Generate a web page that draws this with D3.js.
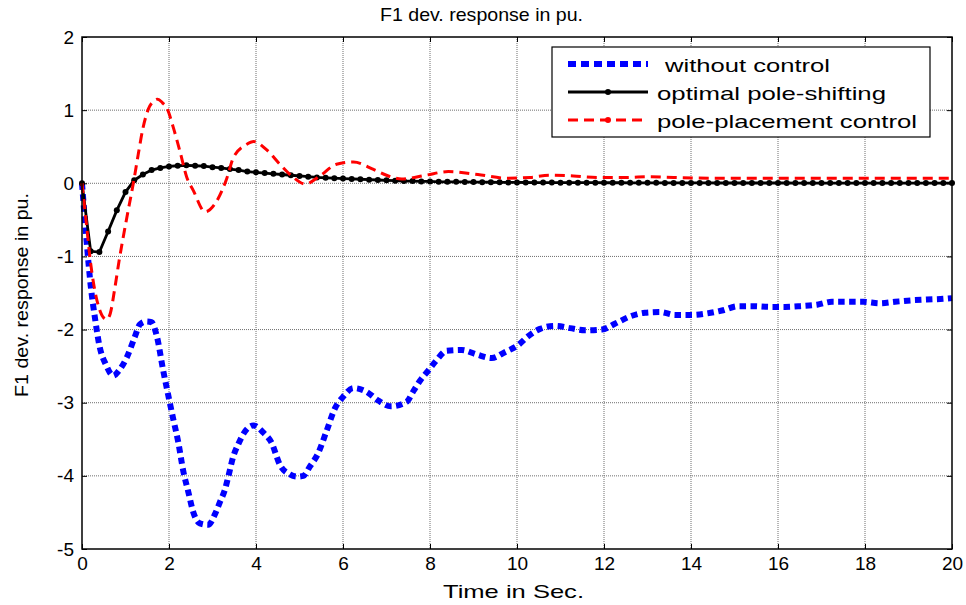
<!DOCTYPE html>
<html>
<head>
<meta charset="utf-8">
<script src="https://cdn.jsdelivr.net/npm/d3@7"></script>
<style>
  body { margin: 0; background: #fff; }
  text { font-family: "Liberation Sans", Arial, sans-serif; }
</style>
</head>
<body>
<script>
// Time axis ticks and value axis ticks
const xTicks = [0, 2, 4, 6, 8, 10, 12, 14, 16, 18, 20];
const yTicks = [-5, -4, -3, -2, -1, 0, 1, 2];

// Without control (blue dotted)
const blueT = [0, 0.1, 0.2, 0.3, 0.4, 0.55, 0.72, 0.85, 1.03, 1.22, 1.33, 1.47, 1.6, 1.72, 1.87, 1.98,
  2.1, 2.21, 2.33, 2.44, 2.56, 2.71, 2.9, 3.06, 3.17, 3.29, 3.36, 3.48, 3.59, 3.75, 3.94, 4.17, 4.36,
  4.55, 4.78, 4.94, 5.09, 5.24, 5.43, 5.62, 5.82, 6.0, 6.24, 6.54, 6.81, 7.1, 7.46, 7.62, 7.77, 7.96,
  8.15, 8.38, 8.73, 9.07, 9.42, 9.72, 10.03, 10.26, 10.53, 10.87, 11.22, 11.56, 11.95, 12.25, 12.6,
  12.94, 13.29, 13.63, 14.02, 14.36, 14.71, 15.09, 15.43, 15.82, 16.16, 16.51, 16.9, 17.24, 17.58,
  17.96, 18.34, 18.69, 19.07, 19.42, 19.8, 20];
const blueV = [0, -0.75, -1.4, -1.85, -2.22, -2.48, -2.63, -2.56, -2.38, -2.09, -1.93, -1.89, -1.9, -2.09,
  -2.57, -2.89, -3.23, -3.53, -3.94, -4.21, -4.5, -4.65, -4.67, -4.52, -4.36, -4.18, -4.02, -3.73,
  -3.57, -3.39, -3.31, -3.41, -3.55, -3.85, -3.98, -4.01, -4.0, -3.87, -3.69, -3.39, -3.07, -2.92,
  -2.8, -2.85, -2.97, -3.05, -2.99, -2.84, -2.7, -2.56, -2.42, -2.29, -2.28, -2.34, -2.39, -2.31,
  -2.21, -2.09, -1.99, -1.95, -1.98, -2.01, -2.0, -1.92, -1.82, -1.77, -1.76, -1.8, -1.8, -1.78,
  -1.74, -1.68, -1.68, -1.69, -1.69, -1.68, -1.66, -1.62, -1.62, -1.62, -1.64, -1.62, -1.6, -1.59,
  -1.58, -1.57];

// Optimal pole-shifting (black, one marker every 0.2 s)
const blackStep = 0.2;
const blackV = [0, -0.93, -0.94, -0.66, -0.37, -0.12, 0.04, 0.12, 0.18, 0.21,
  0.23, 0.24, 0.245, 0.24, 0.235, 0.22, 0.21, 0.195, 0.18, 0.16,
  0.15, 0.14, 0.13, 0.12, 0.11, 0.1, 0.09, 0.08, 0.075, 0.07,
  0.065, 0.06, 0.055, 0.05, 0.045, 0.04, 0.035, 0.03, 0.03, 0.025,
  0.025, 0.02, 0.02, 0.02, 0.018, 0.016, 0.015, 0.014, 0.013, 0.012,
  0.012, 0.011, 0.01, 0.01, 0.01, 0.009, 0.009, 0.008, 0.008, 0.008,
  0.007, 0.007, 0.007, 0.006, 0.006, 0.006, 0.006, 0.005, 0.005, 0.005,
  0.005, 0.005, 0.005, 0.004, 0.004, 0.004, 0.004, 0.004, 0.004, 0.004,
  0.004, 0.004, 0.003, 0.003, 0.003, 0.003, 0.003, 0.003, 0.003, 0.003,
  0.003, 0.003, 0.003, 0.003, 0.003, 0.003, 0.003, 0.003, 0.003, 0.003, 0.003];

// Pole-placement control (red dashed)
const redT = [0, 0.1, 0.2, 0.3, 0.4, 0.5, 0.57, 0.65, 0.75, 0.85, 1.03, 1.18, 1.3, 1.4, 1.53, 1.64,
  1.74, 1.85, 1.95, 2.1, 2.25, 2.41, 2.56, 2.83, 3.1, 3.33, 3.48, 3.78, 3.95, 4.24, 4.55, 4.86, 5.13,
  5.47, 5.85, 6.24, 6.7, 7.0, 7.35, 7.9, 8.42, 9.1, 9.76, 10.3, 10.76, 11.3, 11.83, 12.5, 13.06,
  13.6, 14.5, 16, 18, 20];
const redV = [0, -0.55, -1.1, -1.48, -1.72, -1.84, -1.86, -1.78, -1.45, -1.07, -0.47, 0, 0.42, 0.75,
  1.02, 1.12, 1.15, 1.1, 1.03, 0.76, 0.44, 0.08, -0.1, -0.39, -0.24, 0.07, 0.35, 0.53, 0.57, 0.46,
  0.26, 0.08, -0.01, 0.1, 0.26, 0.29, 0.19, 0.11, 0.06, 0.11, 0.16, 0.12, 0.07, 0.08, 0.11, 0.1,
  0.08, 0.08, 0.09, 0.08, 0.07, 0.07, 0.07, 0.07];

const seriesNames = [" without control", "optimal pole-shifting", "pole-placement control"];

const font = "'Liberation Sans', Arial, sans-serif";
const W = 966, H = 605;
const margin = { left: 82, top: 37, right: 14, bottom: 56 };
const width = W - margin.left - margin.right;
const height = H - margin.top - margin.bottom;

const root = d3.select("body").append("svg")
    .attr("width", W)
    .attr("height", H);

const svg = root.append("g")
    .attr("transform", `translate(${margin.left},${margin.top})`);

const x = d3.scaleLinear().domain([0, 20]).range([0, width]);
const y = d3.scaleLinear().domain([-5, 2]).range([height, 0]);

// Gridlines (gray dotted, inner ticks only)
svg.append("g")
    .selectAll("line")
    .data(xTicks.slice(1, -1))
    .enter().append("line")
    .attr("x1", d => x(d)).attr("x2", d => x(d))
    .attr("y1", 0).attr("y2", height)
    .attr("stroke", "#6e6e6e")
    .attr("stroke-width", 1)
    .attr("stroke-dasharray", "1,1");

svg.append("g")
    .selectAll("line")
    .data(yTicks.slice(1, -1))
    .enter().append("line")
    .attr("x1", 0).attr("x2", width)
    .attr("y1", d => y(d)).attr("y2", d => y(d))
    .attr("stroke", "#6e6e6e")
    .attr("stroke-width", 1)
    .attr("stroke-dasharray", "1,1");

// Axes, ticks pointing inward on all four sides
function styleAxis(g) {
    g.select(".domain").remove();
    g.selectAll(".tick line").attr("stroke", "#000").attr("stroke-width", 1);
    g.selectAll("text")
        .attr("font-family", font)
        .style("font-size", "19px")
        .attr("fill", "#000");
}

const plainFmt = d => String(d); // keep ASCII hyphen, no decimals

svg.append("g")
    .attr("transform", `translate(0,${height})`)
    .call(d3.axisBottom(x).tickValues(xTicks).tickFormat(plainFmt)
        .tickSizeInner(-5).tickSizeOuter(0).tickPadding(8))
    .call(styleAxis);

svg.append("g")
    .call(d3.axisTop(x).tickValues(xTicks).tickSizeInner(-5).tickSizeOuter(0).tickFormat(""))
    .call(styleAxis);

svg.append("g")
    .call(d3.axisLeft(y).tickValues(yTicks).tickFormat(plainFmt)
        .tickSizeInner(-5).tickSizeOuter(0).tickPadding(8))
    .call(styleAxis);

svg.append("g")
    .attr("transform", `translate(${width},0)`)
    .call(d3.axisRight(y).tickValues(yTicks).tickSizeInner(-5).tickSizeOuter(0).tickFormat(""))
    .call(styleAxis);

// Curves
const blueData = blueT.map((t, i) => ({ x: t, y: blueV[i] }));
const redData = redT.map((t, i) => ({ x: t, y: redV[i] }));
const blackData = blackV.map((v, i) => ({ x: i * blackStep, y: v }));

const plot = svg.append("g");

plot.append("path")
    .datum(blueData)
    .attr("fill", "none")
    .attr("stroke", "#0000ff")
    .attr("stroke-width", 6)
    .attr("stroke-dasharray", "6.5,4.5")
    .attr("d", d3.line().x(d => x(d.x)).y(d => y(d.y)).curve(d3.curveMonotoneX));

plot.append("path")
    .datum(blackData)
    .attr("fill", "none")
    .attr("stroke", "#000")
    .attr("stroke-width", 2.8)
    .attr("d", d3.line().x(d => x(d.x)).y(d => y(d.y)));

plot.append("g")
    .selectAll("circle")
    .data(blackData)
    .enter().append("circle")
    .attr("cx", d => x(d.x))
    .attr("cy", d => y(d.y))
    .attr("r", 3)
    .attr("fill", "#000");

plot.append("path")
    .datum(redData)
    .attr("fill", "none")
    .attr("stroke", "#ff0000")
    .attr("stroke-width", 3)
    .attr("stroke-dasharray", "10,6")
    .attr("d", d3.line().x(d => x(d.x)).y(d => y(d.y)).curve(d3.curveMonotoneX));

// Axis frame
svg.append("rect")
    .attr("x", 0).attr("y", 0)
    .attr("width", width).attr("height", height)
    .attr("fill", "none")
    .attr("stroke", "#000")
    .attr("stroke-width", 1.5);

// Title and labels (the export stretches glyphs, so fix lengths)
root.append("text")
    .attr("x", 380).attr("y", 20.5)
    .attr("font-family", font)
    .style("font-size", "18.5px")
    .attr("textLength", 203).attr("lengthAdjust", "spacingAndGlyphs")
    .text("F1 dev. response in pu.");

root.append("text")
    .attr("x", 443).attr("y", 598)
    .attr("font-family", font)
    .style("font-size", "19px")
    .attr("textLength", 141).attr("lengthAdjust", "spacingAndGlyphs")
    .text("Time in Sec.");

root.append("text")
    .attr("transform", "translate(28,397) rotate(-90)")
    .attr("font-family", font)
    .style("font-size", "18.5px")
    .attr("textLength", 204).attr("lengthAdjust", "spacingAndGlyphs")
    .text("F1 dev. response in pu.");

// Legend
const legend = root.append("g");
legend.append("rect")
    .attr("x", 552).attr("y", 47)
    .attr("width", 378).attr("height", 90)
    .attr("fill", "#fff")
    .attr("stroke", "#000")
    .attr("stroke-width", 1.2);

const legendY = [64, 92, 120];
const legendTextX = [665, 657, 657];
const legendLen = [165, 229, 260];

legend.append("line")
    .attr("x1", 568).attr("x2", 648)
    .attr("y1", legendY[0]).attr("y2", legendY[0])
    .attr("stroke", "#0000ff").attr("stroke-width", 6)
    .attr("stroke-dasharray", "8,5");

legend.append("line")
    .attr("x1", 568).attr("x2", 648)
    .attr("y1", legendY[1]).attr("y2", legendY[1])
    .attr("stroke", "#000").attr("stroke-width", 2.8);
legend.append("circle")
    .attr("cx", 608).attr("cy", legendY[1]).attr("r", 3).attr("fill", "#000");

legend.append("line")
    .attr("x1", 568).attr("x2", 648)
    .attr("y1", legendY[2]).attr("y2", legendY[2])
    .attr("stroke", "#ff0000").attr("stroke-width", 3)
    .attr("stroke-dasharray", "10,6");
legend.append("circle")
    .attr("cx", 608).attr("cy", legendY[2]).attr("r", 3).attr("fill", "#ff0000");

legend.selectAll("text.lg")
    .data(seriesNames.map(s => s.trim()))
    .enter().append("text")
    .attr("class", "lg")
    .attr("x", (d, i) => legendTextX[i])
    .attr("y", (d, i) => legendY[i] + 7.5)
    .attr("font-family", font)
    .style("font-size", "19px")
    .attr("textLength", (d, i) => legendLen[i])
    .attr("lengthAdjust", "spacingAndGlyphs")
    .text(d => d);
</script>
</body>
</html>
